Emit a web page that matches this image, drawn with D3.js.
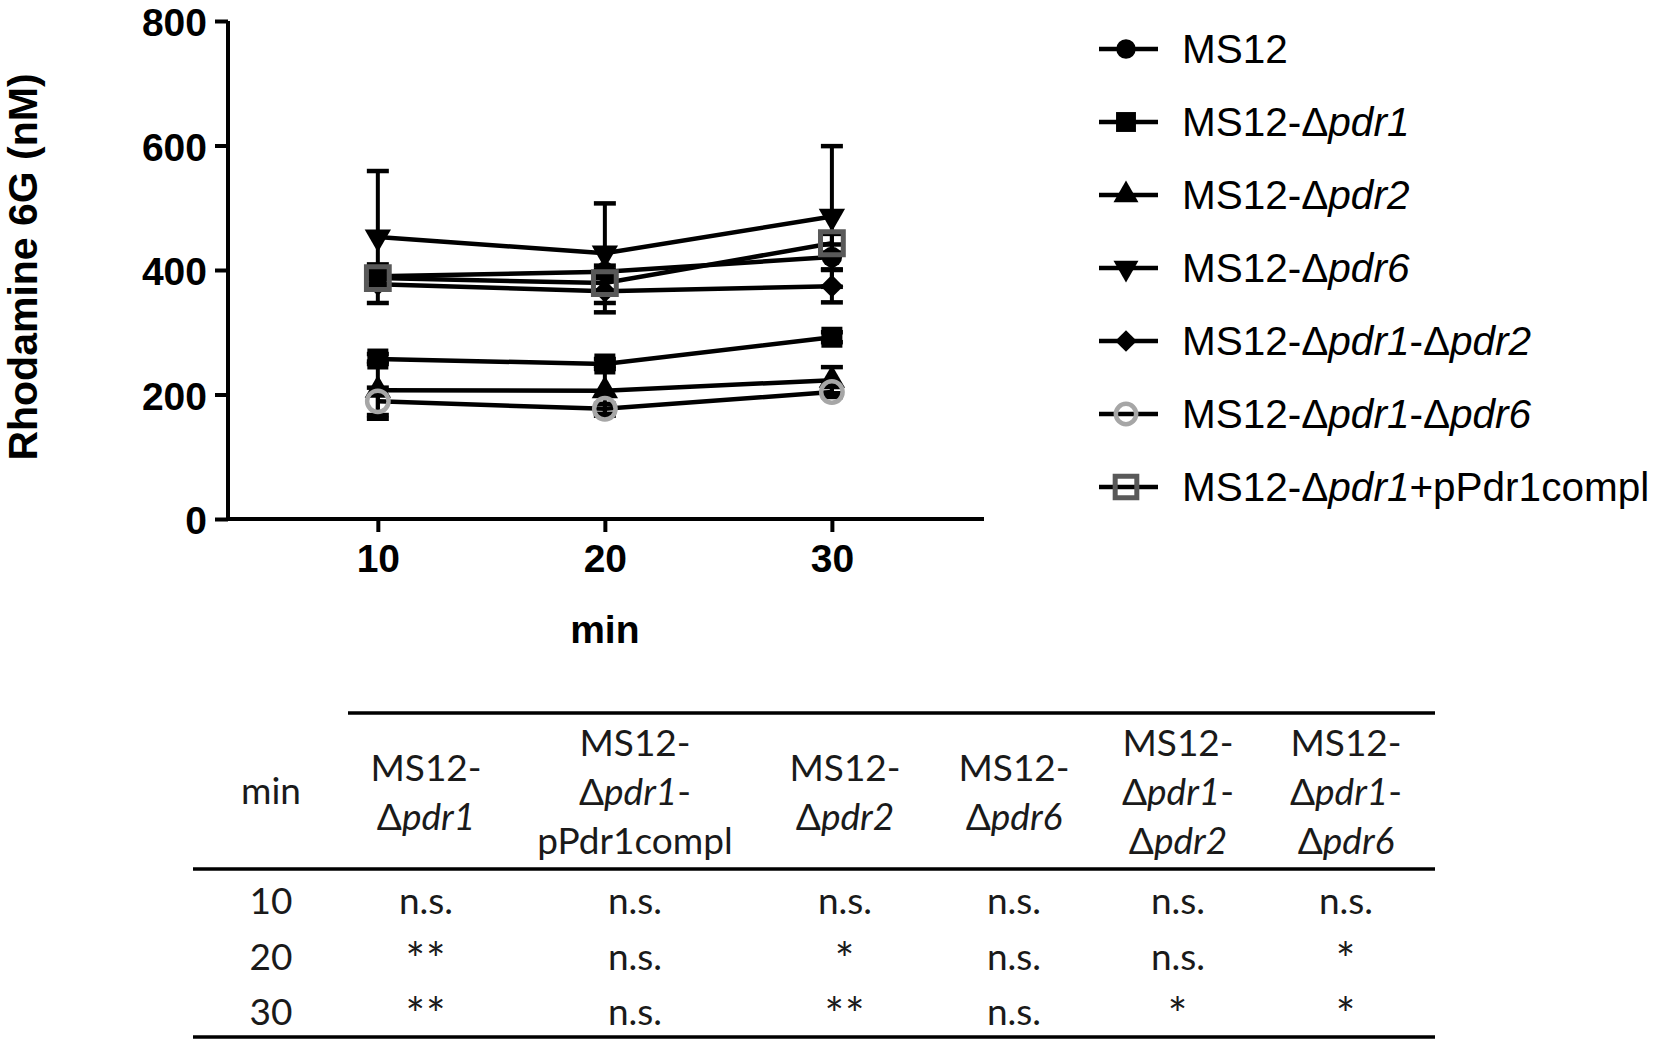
<!DOCTYPE html>
<html>
<head>
<meta charset="utf-8">
<script src="https://cdn.jsdelivr.net/npm/d3@7"></script>
<style>
  html, body { margin: 0; padding: 0; background: #fff; }
  svg { display: block; }
</style>
</head>
<body>
<svg id="chart" width="1654" height="1041"></svg>
<script>
// ---------------- DATA ----------------
const times = [10, 20, 30];
const yTicks = [0, 200, 400, 600, 800];
const xTicks = [10, 20, 30];

const seriesNames = [
  "MS12",
  "MS12-Δ{pdr1}",
  "MS12-Δ{pdr2}",
  "MS12-Δ{pdr6}",
  "MS12-Δ{pdr1}-Δ{pdr2}",
  "MS12-Δ{pdr1}-Δ{pdr6}",
  "MS12-Δ{pdr1}+pPdr1compl"
];

// means (nM)
const ms12        = [390, 397, 421];
const pdr1        = [257, 249, 292];
const pdr2        = [207, 206, 223];
const pdr6        = [453, 427, 486];
const pdr1pdr2    = [377, 366, 374];
const pdr1pdr6    = [189, 177, 204];
const pdr1compl   = [387, 379, 443];

// error (SD)
const ms12Err      = [19, 10, 20];
const pdr1Err      = [8, 8, 8];
const pdr2Err      = [46, 40, 21];
const pdr6Err      = [106, 80, 113];
const pdr1pdr2Err  = [8, 34, 26];
const pdr1pdr6Err  = [22, 8, 8];
const pdr1complErr = [12, 12, 15];

// table
const tableRowLabels = ["10", "20", "30"];
const tableHeaders = [
  ["MS12-", "Δ{pdr1}"],
  ["MS12-", "Δ{pdr1}-", "pPdr1compl"],
  ["MS12-", "Δ{pdr2}"],
  ["MS12-", "Δ{pdr6}"],
  ["MS12-", "Δ{pdr1}-", "Δ{pdr2}"],
  ["MS12-", "Δ{pdr1}-", "Δ{pdr6}"]
];
const sigPdr1      = ["n.s.", "**", "**"];
const sigPdr1compl = ["n.s.", "n.s.", "n.s."];
const sigPdr2      = ["n.s.", "*", "**"];
const sigPdr6      = ["n.s.", "n.s.", "n.s."];
const sigPdr1pdr2  = ["n.s.", "n.s.", "*"];
const sigPdr1pdr6  = ["n.s.", "*", "*"];

// ---------------- BUILD ----------------
const means = [ms12, pdr1, pdr2, pdr6, pdr1pdr2, pdr1pdr6, pdr1compl];
const errs  = [ms12Err, pdr1Err, pdr2Err, pdr6Err, pdr1pdr2Err, pdr1pdr6Err, pdr1complErr];
const sigCols = [sigPdr1, sigPdr1compl, sigPdr2, sigPdr6, sigPdr1pdr2, sigPdr1pdr6];

// styles per series (not data)
const styles = [
  {sym: d3.symbolCircle,   size: 330, fill: "#000", stroke: "none", sw: 0, rot: 0},
  {sym: d3.symbolSquare,   size: 440, fill: "#000", stroke: "none", sw: 0, rot: 0},
  {sym: d3.symbolTriangle, size: 300, fill: "#000", stroke: "none", sw: 0, rot: 0},
  {sym: d3.symbolTriangle, size: 300, fill: "#000", stroke: "none", sw: 0, rot: 180},
  {sym: d3.symbolSquare,   size: 260, fill: "#000", stroke: "none", sw: 0, rot: 45},
  {sym: d3.symbolCircle,   size: 360, fill: "none", stroke: "#a6a6a6", sw: 4.5, rot: 0},
  {sym: d3.symbolSquare,   size: 520, fill: "none", stroke: "#595959", sw: 5, rot: 0}
];

const svg = d3.select("#chart");
const AX = "Liberation Sans, Arial, sans-serif";
const TB = "Lato, Carlito, Calibri, sans-serif";

const x = d3.scaleLinear().domain([3.4, 36.7]).range([228, 984]);
const y = d3.scaleLinear().domain([0, 800]).range([519, 21]);

function richText(sel, str) {
  const parts = str.split(/(\{[^}]*\})/).filter(s => s.length);
  parts.forEach(p => {
    if (p.startsWith("{")) sel.append("tspan").attr("font-style", "italic").text(p.slice(1, -1));
    else sel.append("tspan").text(p);
  });
}

// axes
const yAxis = d3.axisLeft(y).tickValues(yTicks).tickSize(13).tickPadding(8).tickFormat(d3.format("d"));
const gy = svg.append("g").attr("transform", "translate(228,0)").call(yAxis);
const xAxis = d3.axisBottom(x).tickValues(xTicks).tickSize(13).tickPadding(10).tickFormat(d3.format("d"));
const gx = svg.append("g").attr("transform", "translate(0,519)").call(xAxis);
[gx, gy].forEach(g => {
  g.select(".domain").attr("stroke", "#000").attr("stroke-width", 4);
  g.selectAll(".tick line").attr("stroke", "#000").attr("stroke-width", 4);
  g.selectAll(".tick text").attr("fill", "#000").attr("font-family", AX)
    .attr("font-weight", "bold").attr("font-size", 39);
});
gy.select(".domain").attr("d", `M0,${y(800)}V${y(0)}`);
gx.select(".domain").attr("d", `M228,0H984`);
gx.selectAll(".tick text").attr("dy", "0.76em");
gy.selectAll(".tick text").attr("dy", "0.38em");

svg.append("text").attr("transform", "translate(37,267) rotate(-90)")
  .attr("text-anchor", "middle").attr("font-family", AX).attr("font-weight", "bold")
  .attr("font-size", 41).text("Rhodamine 6G (nM)");
svg.append("text").attr("x", x(20)).attr("y", 643)
  .attr("text-anchor", "middle").attr("font-family", AX).attr("font-weight", "bold")
  .attr("font-size", 39).text("min");

// error bars
const plot = svg.append("g");
const capW = 22;
means.forEach((m, si) => {
  const g = plot.append("g");
  m.forEach((v, i) => {
    const e = errs[si][i], cx = x(times[i]);
    g.append("line").attr("x1", cx).attr("x2", cx).attr("y1", y(v + e)).attr("y2", y(v - e))
      .attr("stroke", "#000").attr("stroke-width", 4);
    [v + e, v - e].forEach(t => g.append("line")
      .attr("x1", cx - capW / 2).attr("x2", cx + capW / 2).attr("y1", y(t)).attr("y2", y(t))
      .attr("stroke", "#000").attr("stroke-width", 4.5));
  });
});
// lines
const lineGen = d3.line().x((d, i) => x(times[i])).y(d => y(d));
means.forEach(m => {
  plot.append("path").attr("d", lineGen(m)).attr("fill", "none")
    .attr("stroke", "#000").attr("stroke-width", 4.5);
});
// markers
function drawMarker(g, st, cx, cy, scale) {
  g.append("path").attr("d", d3.symbol().type(st.sym).size(st.size * (scale || 1))())
    .attr("transform", `translate(${cx},${cy}) rotate(${st.rot})`)
    .attr("fill", st.fill).attr("stroke", st.stroke).attr("stroke-width", st.sw);
}
means.forEach((m, si) => {
  m.forEach((v, i) => drawMarker(plot, styles[si], x(times[i]), y(v)));
});

// legend
const legendRowY = d3.scalePoint().domain(d3.range(seriesNames.length)).range([49, 487]);
const leg = svg.append("g");
seriesNames.forEach((name, i) => {
  const ly = legendRowY(i);
  leg.append("line").attr("x1", 1099).attr("x2", 1158).attr("y1", ly).attr("y2", ly)
    .attr("stroke", "#000").attr("stroke-width", 4.5);
  drawMarker(leg, styles[i], 1126, ly, 0.9);
  const t = leg.append("text").attr("x", 1182).attr("y", ly + 14)
    .attr("font-family", AX).attr("font-size", 40.5).attr("fill", "#000");
  richText(t, name);
});

// table
const colX = [426, 635, 845, 1014, 1178, 1346];
const minX = 271;
const rowY = d3.scalePoint().domain(tableRowLabels).range([914, 1025]);
const tbl = svg.append("g").attr("font-family", TB).attr("font-size", 37).attr("fill", "#1a1a1a");
tbl.append("line").attr("x1", 348).attr("x2", 1435).attr("y1", 713).attr("y2", 713).attr("stroke", "#000").attr("stroke-width", 3.5);
tbl.append("line").attr("x1", 193).attr("x2", 1435).attr("y1", 869).attr("y2", 869).attr("stroke", "#000").attr("stroke-width", 3.5);
tbl.append("line").attr("x1", 193).attr("x2", 1435).attr("y1", 1037).attr("y2", 1037).attr("stroke", "#000").attr("stroke-width", 3.5);
tbl.append("text").attr("x", minX).attr("y", 804).attr("text-anchor", "middle").text("min");
tableHeaders.forEach((lines, ci) => {
  lines.forEach((ln, li) => {
    const t = tbl.append("text").attr("x", colX[ci])
      .attr("y", 805 + (li - (lines.length - 1) / 2) * 49).attr("text-anchor", "middle");
    richText(t, ln);
  });
});
tableRowLabels.forEach((r, ri) => {
  tbl.append("text").attr("x", minX).attr("y", rowY(r)).attr("text-anchor", "middle").text(r);
  sigCols.forEach((col, ci) => {
    const v = col[ri];
    const isStar = /^\*+$/.test(v);
    tbl.append("text").attr("x", colX[ci]).attr("y", rowY(r) + (isStar ? 6 : 0))
      .attr("text-anchor", "middle")
      .attr("font-size", isStar ? 46 : null)
      .attr("letter-spacing", isStar ? 1 : null)
      .text(v);
  });
});
</script>
</body>
</html>
